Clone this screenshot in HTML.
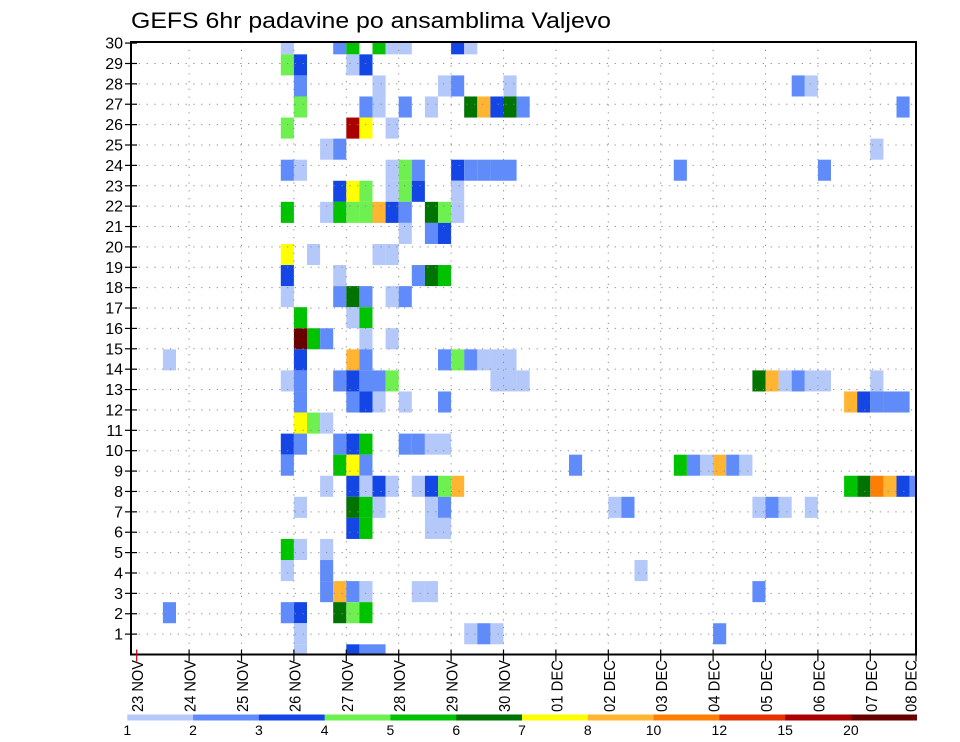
<!DOCTYPE html>
<html><head><meta charset="utf-8"><title>GEFS 6hr padavine po ansamblima Valjevo</title>
<style>html,body{margin:0;padding:0;background:#fff}svg{display:block}text{font-family:"Liberation Sans",sans-serif;fill:#000}</style>
</head><body>
<svg id="chart" xmlns="http://www.w3.org/2000/svg" width="960" height="742" viewBox="0 0 960 742">
<rect x="0" y="0" width="960" height="742" fill="#fff"/>
<text x="131" y="28" font-size="22" textLength="480" lengthAdjust="spacingAndGlyphs">GEFS 6hr padavine po ansamblima Valjevo</text>
<g id="cells"></g>
<g id="grid"></g>
<g id="axes"></g>
<g id="cbar"></g>
</svg>
<script>
// Chart data
const dayLabels = ["23 NOV","24 NOV","25 NOV","26 NOV","27 NOV","28 NOV","29 NOV","30 NOV","01 DEC","02 DEC","03 DEC","04 DEC","05 DEC","06 DEC","07 DEC","08 DEC"];
const memberLabels = [1,2,3,4,5,6,7,8,9,10,11,12,13,14,15,16,17,18,19,20,21,22,23,24,25,26,27,28,29,30];
const levels = [1,2,3,4,5,6,7,8,10,12,15,20];
const levelColors = ["#b4c8fa","#5f8cfa","#1446e6","#6ef050","#00c300","#007300","#ffff00","#ffb432","#ff7d00","#e63200","#aa0000","#680000"];
// cells: member row index, 6-hour step index, precipitation (mm)
const cellMember = [
29,29,29,29,29,29,29,29,
28,28,28,28,
27,27,27,27,27,27,27,
26,26,26,26,26,26,26,26,26,26,26,
25,25,25,25,
24,24,24,
23,23,23,23,23,23,23,23,23,23,23,23,
22,22,22,22,22,22,22,
21,21,21,21,21,21,21,21,21,21,21,
20,20,20,
19,19,19,19,
18,18,18,18,18,
17,17,17,17,17,17,
16,16,16,
15,15,15,15,15,
14,14,14,14,14,14,14,14,14,14,
13,13,13,13,13,13,13,13,13,13,13,13,13,13,13,13,13,
12,12,12,12,12,12,12,12,12,12,12,
11,11,11,
10,10,10,10,10,10,10,10,10,
9,9,9,9,9,9,9,9,9,9,9,
8,8,8,8,8,8,8,8,8,8,8,8,8,8,8,
7,7,7,7,7,7,7,7,7,7,7,7,
6,6,6,6,
5,5,5,
4,4,4,
3,3,3,3,3,3,3,
2,2,2,2,2,2,
1,1,1,1,1,
0,0,0,0];
const cellStep = [
11,15,16,18,19,20,24,25,
11,12,16,17,
12,18,23,24,28,50,51,
12,17,18,20,22,25,26,27,28,29,58,
11,16,17,19,
14,15,56,
11,12,19,20,21,24,25,26,27,28,41,52,
15,16,17,19,20,21,24,
11,14,15,16,17,18,19,20,22,23,24,
20,22,23,
11,13,18,19,
11,15,21,22,23,
11,15,16,17,19,20,
12,16,17,
12,13,14,17,19,
2,12,16,17,23,24,25,26,27,28,
11,12,15,16,17,18,19,27,28,29,47,48,49,50,51,52,56,
12,16,17,18,20,23,54,55,56,57,58,
12,13,14,
11,12,15,16,17,20,21,22,23,
11,15,16,17,33,41,42,43,44,45,46,
14,16,17,18,19,21,22,23,24,54,55,56,57,58,59,
12,16,17,18,22,23,36,37,47,48,49,51,
16,17,22,23,
11,12,14,
11,14,38,
14,15,16,17,21,22,47,
2,11,12,15,16,17,
12,25,26,27,44,
12,16,17,18];
const cellPrecip = [
1.5,2.5,5.5,5.5,1.5,1.5,3.5,1.5,
4.5,3.5,1.5,3.5,
2.5,1.5,1.5,2.5,1.5,2.5,1.5,
4.5,2.5,1.5,2.5,1.5,6.5,9,3.5,6.5,2.5,2.5,
4.5,17,7.5,1.5,
1.5,2.5,1.5,
2.5,1.5,1.5,4.5,2.5,3.5,2.5,2.5,2.5,2.5,2.5,2.5,
3.5,7.5,4.5,1.5,4.5,3.5,1.5,
5.5,1.5,5.5,4.5,4.5,9,3.5,2.5,6.5,4.5,1.5,
1.5,2.5,3.5,
7.5,1.5,1.5,1.5,
3.5,1.5,2.5,6.5,5.5,
1.5,2.5,6.5,2.5,1.5,2.5,
5.5,1.5,5.5,
25,5.5,2.5,1.5,1.5,
1.5,3.5,9,2.5,2.5,4.5,2.5,1.5,1.5,1.5,
1.5,2.5,2.5,3.5,2.5,2.5,4.5,1.5,1.5,1.5,6.5,9,1.5,2.5,1.5,1.5,1.5,
2.5,2.5,3.5,1.5,1.5,2.5,9,3.5,2.5,2.5,2.5,
7.5,4.5,1.5,
3.5,2.5,2.5,3.5,5.5,2.5,2.5,1.5,1.5,
2.5,5.5,7.5,2.5,2.5,5.5,2.5,1.5,9,2.5,1.5,
1.5,3.5,1.5,3.5,1.5,1.5,3.5,4.5,9,5.5,6.5,11,9,3.5,2.5,
1.5,6.5,5.5,1.5,1.5,2.5,1.5,2.5,1.5,2.5,1.5,1.5,
3.5,5.5,1.5,1.5,
5.5,1.5,1.5,
1.5,2.5,1.5,
2.5,9,2.5,1.5,1.5,1.5,2.5,
2.5,2.5,3.5,6.5,4.5,5.5,
1.5,1.5,2.5,1.5,2.5,
1.5,3.5,2.5,2.5];

const NS = "http://www.w3.org/2000/svg";
const FL = 131, FR = 916, FT = 42, FB = 654.5;
const X0 = 136.7, DAY = 52.4, STEP = DAY / 4;
function xDay(d) { return X0 + d * DAY; }
function xStep(k) { return X0 + k * STEP; }
const CELL_H = 21.07, CELL_BASE = 644.3;
function yCellTop(m) { return CELL_BASE - CELL_H * m; }
function yLabel(n) { return FB - 20.38 * n; }
function colorFor(v) {
  let i = -1;
  for (let j = 0; j < levels.length; j++) if (v >= levels[j]) i = j;
  return i < 0 ? null : levelColors[i];
}
function mk(tag, attrs, parent) {
  const e = document.createElementNS(NS, tag);
  for (const a in attrs) e.setAttribute(a, attrs[a]);
  parent.appendChild(e);
  return e;
}

// cells
const gc = document.getElementById('cells');
for (let i = 0; i < cellMember.length; i++) {
  const col = colorFor(cellPrecip[i]);
  if (!col) continue;
  let x1 = Math.max(FL, xStep(cellStep[i])), x2 = Math.min(FR, xStep(cellStep[i] + 1));
  let y1 = Math.max(FT, yCellTop(cellMember[i])), y2 = Math.min(FB, yCellTop(cellMember[i]) + CELL_H);
  if (x2 <= x1 || y2 <= y1) continue;
  const r = mk('rect', {x: x1, y: y1, width: x2 - x1, height: y2 - y1, fill: col}, gc);
  
  
}

// grid
const gg = document.getElementById('grid');
for (let n = 1; n < memberLabels.length; n++) {
  const y = yLabel(memberLabels[n - 1]);
  const l = mk('line', {x1: FL, x2: FR, y1: y, y2: y, stroke: '#8a8a8a', 'stroke-width': 1, 'stroke-dasharray': '1.2 6.6'}, gg);
  
  
}
for (let d = 1; d < dayLabels.length - 1; d++) {
  const x = xDay(d);
  const l = mk('line', {x1: x, x2: x, y1: FT, y2: FB, stroke: '#8a8a8a', 'stroke-width': 1, 'stroke-dasharray': '1.2 6.6'}, gg);
  
  
}

// axes
const ga = document.getElementById('axes');
const fr = mk('rect', {x: FL, y: FT, width: FR - FL, height: FB - FT, fill: 'none', stroke: '#000', 'stroke-width': 2}, ga);


for (let n = 0; n < memberLabels.length; n++) {
  const y = yLabel(memberLabels[n]);
  const t = mk('line', {x1: 125, x2: 137, y1: y, y2: y, stroke: '#000', 'stroke-width': 1.2}, ga);
  
  
  const tx = mk('text', {x: 123, y: y + 5.5, 'font-size': 16, 'text-anchor': 'end'}, ga);
  tx.textContent = memberLabels[n];
  
  
}
for (let d = 0; d < dayLabels.length; d++) {
  const x = Math.min(xDay(d), FR);
  const t = mk('line', {x1: x, x2: x, y1: FB - 5, y2: FB + 7, stroke: d === 0 ? '#c00' : '#000', 'stroke-width': 1.2}, ga);
  
  
  const lx = Math.min(xDay(d), 910);
  const tx = mk('text', {x: 0, y: 0, 'font-size': 16, transform: 'translate(' + (lx + 6.5) + ',712) rotate(-90)', textLength: 52, lengthAdjust: 'spacingAndGlyphs'}, ga);
  tx.textContent = dayLabels[d];
  
  
}

// colorbar
const gb = document.getElementById('cbar');
const CB0 = 127.3, CB1 = 916.7, CBW = (CB1 - CB0) / levels.length;
for (let i = 0; i < levels.length; i++) {
  const r = mk('rect', {x: CB0 + i * CBW, y: 714.5, width: CBW + 0.3, height: 6, fill: levelColors[i]}, gb);
  
  
  const t = mk('text', {x: CB0 + i * CBW, y: 735, 'font-size': 14, 'text-anchor': 'middle'}, gb);
  t.textContent = levels[i];
  
  
}
</script>
</body></html>
